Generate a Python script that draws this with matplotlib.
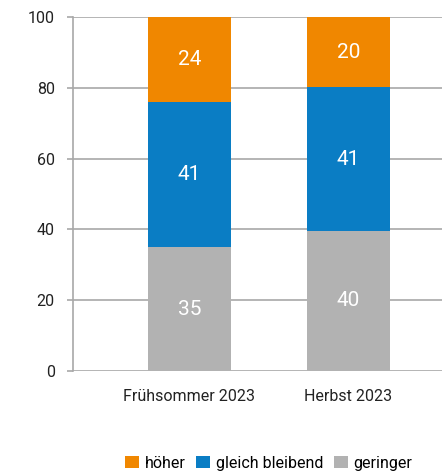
import matplotlib.pyplot as plt
import numpy as np

categories = ['Frühsommer 2023', 'Herbst 2023']
geringer = [35, 40]
gleich = [41, 41]
hoeher = [24, 20]
series_names = ['höher', 'gleich bleibend', 'geringer']
colors = ['#F08700', '#0A7DC4', '#B2B2B2']

plt.rcParams['font.family'] = ['Roboto', 'DejaVu Sans']

# rounded percentages, bars normalised to 100 %
totals = np.array(geringer) + np.array(gleich) + np.array(hoeher)

fig = plt.figure(figsize=(4.42, 4.75), dpi=100)
ax = fig.add_axes([0.165, 0.219, 0.835, 0.745])

x = np.arange(len(categories))
w = 0.52
bottoms = np.zeros(len(categories))
handles = {}
for name, vals, col in [('geringer', geringer, colors[2]),
                        ('gleich bleibend', gleich, colors[1]),
                        ('höher', hoeher, colors[0])]:
    h = np.array(vals) / totals * 100
    bars = ax.bar(x, h, w, bottom=bottoms, color=col, zorder=3)
    handles[name] = bars
    for xi, v, hh, b in zip(x, vals, h, bottoms):
        ax.text(xi, b + hh / 2, str(v), ha='center', va='center',
                color='white', fontsize=15, zorder=4)
    bottoms += h

ax.set_xlim(-0.733, 1.588)
ax.set_ylim(0, 100)
ax.set_yticks(range(0, 101, 20))
ax.yaxis.grid(True, color='#A8A8A8', linewidth=1.2, zorder=0)
ax.set_xticks(x)
ax.set_xticklabels(categories, fontsize=11.5, color='#222222')
ax.tick_params(axis='x', length=0, pad=13)
ax.tick_params(axis='y', length=4, color='#A8A8A8', width=1.2, labelsize=11.5,
               labelcolor='#222222', pad=9)
for s in ['top', 'right', 'bottom']:
    ax.spines[s].set_visible(False)
ax.spines['left'].set_color('#A8A8A8')
ax.spines['left'].set_linewidth(1.2)

fig.legend([handles[n] for n in series_names], series_names,
           loc='center', bbox_to_anchor=(0.608, 0.025), ncol=3, frameon=False,
           fontsize=11.5, handlelength=0.85, handleheight=0.85,
           handletextpad=0.35, columnspacing=0.7)

fig.savefig('out.png', dpi=100)
